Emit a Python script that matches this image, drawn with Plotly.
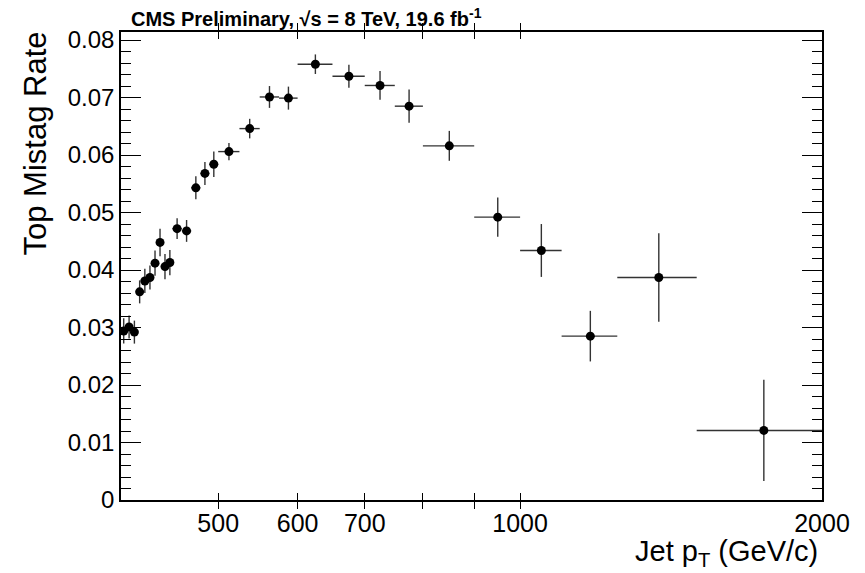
import plotly.graph_objects as go
import math

# Jet pT bin edges (GeV/c)
pt_low = [400, 405, 410, 415, 420, 425, 430, 435, 440, 445,
          450, 460, 470, 480, 490, 500, 525, 550, 575, 600,
          650, 700, 750, 800, 900, 1000, 1100, 1250, 1500]
pt_high = [405, 410, 415, 420, 425, 430, 435, 440, 445, 450,
           460, 470, 480, 490, 500, 525, 550, 575, 600, 650,
           700, 750, 800, 900, 1000, 1100, 1250, 1500, 2000]
mistag_rate = [0.0294, 0.0301, 0.0292, 0.0362, 0.0381, 0.0387, 0.0412, 0.0448, 0.0406, 0.0413,
               0.0472, 0.0468, 0.0543, 0.0568, 0.0584, 0.0606, 0.0646, 0.0701, 0.0699, 0.0758,
               0.0737, 0.0721, 0.0685, 0.0616, 0.0492, 0.0434, 0.0285, 0.0387, 0.0121]
mistag_err = [0.0022, 0.0020, 0.0020, 0.0020, 0.0021, 0.0021, 0.0022, 0.0024, 0.0022, 0.0022,
              0.0018, 0.0019, 0.0020, 0.0020, 0.0022, 0.0015, 0.0017, 0.0019, 0.0020, 0.0017,
              0.0020, 0.0025, 0.0029, 0.0026, 0.0034, 0.0046, 0.0044, 0.0077, 0.0088]

x_tickvals = [500, 600, 700, 800, 900, 1000, 2000]
x_ticktext = ["500", "600", "700", "", "", "1000", "2000"]
y_tickvals = [0, 0.01, 0.02, 0.03, 0.04, 0.05, 0.06, 0.07, 0.08]
y_ticktext = ["0", "0.01", "0.02", "0.03", "0.04", "0.05", "0.06", "0.07", "0.08"]

x_center = [(a + b) / 2 for a, b in zip(pt_low, pt_high)]
x_plus = [b - c for b, c in zip(pt_high, x_center)]
x_minus = [c - a for a, c in zip(pt_low, x_center)]

FONT = "Liberation Sans, Arial, Helvetica, sans-serif"
Y_RANGE = [0, 0.0814]

fig = go.Figure()
fig.add_trace(go.Scatter(
    x=x_center, y=mistag_rate, mode="markers",
    marker=dict(color="black", size=9),
    error_x=dict(type="data", symmetric=False, array=x_plus, arrayminus=x_minus,
                 color="#333333", thickness=1.4, width=0),
    error_y=dict(type="data", array=mistag_err, color="#333333", thickness=1.4, width=0),
    cliponaxis=False, showlegend=False,
))
# empty helper trace so the mirrored right-hand axis (with minor ticks) is drawn
fig.add_trace(go.Scatter(x=[], y=[], yaxis="y2", showlegend=False, hoverinfo="skip"))

W, H = 865, 573
L, R, T, B = 121, 43, 32, 73
plot_h = H - T - B

tick_common = dict(ticks="inside", tickwidth=1.3, tickcolor="black",
                   showgrid=False, zeroline=False)

fig.update_layout(
    width=W, height=H,
    margin=dict(l=L, r=R, t=T, b=B),
    paper_bgcolor="white", plot_bgcolor="white",
    font=dict(family=FONT, color="black"),
    xaxis=dict(
        type="log", range=[math.log10(400), math.log10(2000)],
        tickvals=x_tickvals, ticktext=x_ticktext, ticklen=7,
        showline=True, linecolor="black", linewidth=1.5, mirror="allticks",
        tickfont=dict(family=FONT, size=25, color="black"),
        **tick_common,
    ),
    yaxis=dict(
        range=Y_RANGE,
        tickvals=y_tickvals, ticktext=y_ticktext, ticklen=20,
        minor=dict(dtick=0.002, ticks="inside", ticklen=10, tickwidth=1.3, tickcolor="black", showgrid=False),
        showline=True, linecolor="black", linewidth=1.5, mirror=True,
        tickfont=dict(family=FONT, size=24, color="black"),
        **tick_common,
    ),
    yaxis2=dict(
        range=Y_RANGE, overlaying="y", side="right", anchor="x",
        tickvals=y_tickvals, ticklen=20, showticklabels=False,
        minor=dict(dtick=0.002, ticks="inside", ticklen=10, tickwidth=1.3, tickcolor="black", showgrid=False),
        showline=True, linecolor="black", linewidth=1.5,
        **tick_common,
    ),
    shapes=[
        dict(type="line", xref="x", yref="paper", x0=3, x1=3, y0=0, y1=14 / plot_h,
             line=dict(color="black", width=1.3)),
        dict(type="line", xref="x", yref="paper", x0=3, x1=3, y0=1, y1=1 - 14 / plot_h,
             line=dict(color="black", width=1.3)),
    ],
    annotations=[
        dict(text="<b>CMS Preliminary, √s = 8 TeV, 19.6 fb<sup>-1</sup></b>",
             xref="paper", yref="paper", x=(129 - L) / (W - L - R), y=1,
             xanchor="left", yanchor="bottom", yshift=0, showarrow=False,
             font=dict(family=FONT, size=20, color="black")),
        dict(text="Jet p<sub>T</sub> (GeV/c)",
             xref="paper", yref="paper", x=1, y=0, xanchor="right", yanchor="top",
             yshift=-33, xshift=-2, showarrow=False,
             font=dict(family=FONT, size=29, color="black")),
        dict(text="Top Mistag Rate", textangle=-90,
             xref="paper", yref="paper", x=(15 - L) / (W - L - R), y=1,
             xanchor="left", yanchor="top", yshift=2, showarrow=False,
             font=dict(family=FONT, size=31, color="black")),
    ],
)

fig.write_html("out.html")
